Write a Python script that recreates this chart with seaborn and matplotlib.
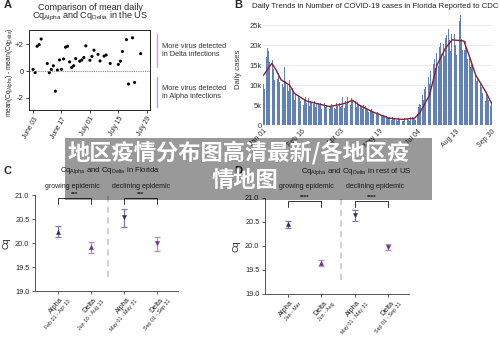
import matplotlib
matplotlib.use("Agg")
import matplotlib.pyplot as plt
import matplotlib.transforms as mtrans
import seaborn as sns
from matplotlib.patches import Rectangle
from matplotlib.ticker import FuncFormatter

# ---------------- data ----------------
# Panel A: daily difference of mean Cq (Alpha - Delta), day 0 = June 01
a_day = [2, 3, 4, 5, 6, 9, 10, 11, 12, 13, 14, 15, 16, 17, 18, 19, 20, 21, 22, 23,
         25, 26, 27, 28, 30, 31, 32, 34, 35, 37, 38, 40, 44, 45, 46, 48, 49, 51, 52, 55]
a_diff = [0.12, -0.12, 1.84, 1.96, 2.38, 0.56, -0.12, 0.12, 0.39, -1.5,
          0.07, 0.82, 0.12, 0.9, 1.77, 1.84, 0.68, 0.27, 0.39, 0.92,
          0.73, 0.82, 1.0, 1.87, 0.8, 1.09, 1.55, 1.24, 0.75, 1.11,
          1.19, 0.56, 0.49, 0.73, 1.45, 2.33, -0.97, 2.47, -0.85, 1.29]
a_tick_days = [2, 16, 30, 44, 58]
a_tick_labels = ["June 03", "June 17", "July 01", "July 15", "July 29"]

# Panel B: daily Florida cases (thousands), day 0 = Jan 01
daily_cases_k = [
    10.2, 8.9, 11.5, 13.8, 17.1, 19.3, 18.6,
    15.8, 14.2, 12.0, 17.5, 16.3, 14.1, 11.2,
    13.6, 12.4, 9.8, 11.5, 12.9, 10.7, 8.6,
    11.8, 12.6, 10.3, 9.4, 14.5, 11.0, 7.9,
    10.6, 9.9, 8.4, 11.2, 9.1, 7.0, 8.8,
    9.3, 8.1, 6.2, 7.5, 8.4, 7.1, 5.6,
    7.4, 6.8, 5.9, 7.2, 6.5, 6.9, 5.1,
    6.6, 7.0, 5.4, 6.3, 5.8, 6.7, 4.8,
    6.1, 5.5, 4.6, 6.0, 5.2, 5.9, 4.4,
    5.3, 5.7, 4.2, 5.6, 4.9, 5.4, 3.9,
    5.0, 4.7, 3.8, 5.5, 4.4, 5.1, 3.6,
    4.8, 5.2, 3.9, 4.6, 5.3, 4.5, 3.7,
    4.9, 4.3, 4.1, 5.6, 4.7, 5.0, 3.8,
    5.4, 4.6, 4.8, 6.9, 5.1, 5.5, 4.2,
    6.1, 5.3, 7.0, 8.9, 6.2, 5.7, 4.9,
    6.8, 5.9, 6.4, 7.1, 5.6, 6.0, 4.5,
    5.8, 5.2, 4.7, 5.9, 5.0, 4.6, 3.9,
    5.1, 4.4, 4.0, 4.8, 4.2, 3.8, 3.2,
    4.3, 3.6, 3.4, 3.9, 3.3, 3.0, 2.6,
    3.5, 2.9, 2.8, 3.2, 2.6, 2.4, 2.0,
    2.8, 2.3, 2.2, 2.6, 2.0, 1.9, 1.5,
    2.3, 1.9, 1.7, 2.1, 1.6, 1.5, 1.2,
    1.9, 1.6, 1.4, 1.8, 1.3, 1.2, 1.0,
    1.7, 1.4, 1.3, 1.6, 1.2, 1.1, 0.9,
    1.8, 1.5, 1.3, 1.7, 1.4, 1.2, 1.0,
    2.0, 1.7, 1.5, 1.9, 1.8, 1.6, 1.3,
    2.4, 2.1, 2.8, 4.6, 5.3, 5.0, 4.1,
    6.8, 7.5, 6.2, 8.9, 9.6, 8.3, 7.0,
    10.8, 11.9, 10.2, 13.4, 14.6, 12.8, 11.1,
    15.2, 16.4, 14.3, 18.1, 19.0, 16.9, 14.8,
    19.4, 20.6, 17.8, 22.9, 23.8, 20.3, 17.2,
    21.7, 22.5, 19.6, 25.6, 24.1, 21.2, 18.4,
    22.8, 23.5, 20.1, 24.3, 22.7, 19.9, 17.6,
    22.0, 23.1, 19.4, 26.0, 27.4, 21.5, 18.8,
    21.3, 22.4, 18.7, 20.9, 19.2, 16.5, 14.1,
    18.3, 17.1, 14.6, 16.0, 14.8, 12.2, 10.4,
    13.5, 12.6, 10.9, 11.8, 10.7, 9.0, 7.8,
    10.2, 9.5, 8.1, 9.0, 8.3, 6.9, 5.9,
    7.8, 7.1, 6.2, 6.6, 5.9, 4.8, 5.3,
]
b_days = list(range(len(daily_cases_k)))
avg_day = [0, 10, 15, 21, 31, 37, 51, 71, 79, 93, 100, 106, 114, 130, 150,
           166, 180, 186, 198, 207, 217, 225, 239, 245, 253, 265, 272]
avg_k = [12.4, 15.4, 13.8, 11.3, 10.0, 7.9, 6.0, 5.0, 4.6, 5.2, 5.6, 6.2, 5.0, 3.3, 1.7,
         1.4, 1.7, 2.9, 7.5, 15.0, 19.2, 21.3, 21.0, 17.5, 12.5, 8.3, 5.4]
b_tick_days = [0, 46, 92, 138, 184, 230, 272]
b_tick_labels = ["Jan 01", "Feb 16", "Apr 03", "May 19", "Jul 04", "Aug 19", "Sep 30"]

# Panels C and D: mean Cq with error range
groups = ["Alpha", "Delta", "Alpha", "Delta"]
c_periods = ["Feb 01 - Apr 13", "Jun 16 - Aug 13", "May 01 - May 31", "Sep 01 - Sep 31"]
c_mean = [20.22, 19.91, 20.54, 20.01]
c_low = [20.12, 19.80, 20.33, 19.84]
c_high = [20.35, 20.03, 20.71, 20.12]
c_stars = ["***", "***"]

d_periods = ["Jan - Mar", "Jun - Aug", "May 01 - May 31", "Sep 01 - Sep 31"]
d_mean = [20.45, 19.64, 20.64, 19.98]
d_low = [20.37, 19.58, 20.52, 19.92]
d_high = [20.53, 19.70, 20.75, 20.04]
d_stars = ["****", "****"]

banner_lines = ["地区疫情分布图高清最新/各地区疫", "情地图"]

# ---------------- style ----------------
sns.set_theme(style="ticks")
plt.rcParams['font.family'] = ['Liberation Sans', 'DejaVu Sans']
plt.rcParams['mathtext.fontset'] = 'custom'
plt.rcParams['mathtext.rm'] = 'Liberation Sans'
plt.rcParams['mathtext.it'] = 'Liberation Sans'
plt.rcParams['axes.linewidth'] = 0.7

W, H = 500, 337
fig = plt.figure(figsize=(W / 100, H / 100), dpi=100)
fig.patch.set_facecolor("white")


def box(left, top, right, bottom):
    return [left / W, 1 - bottom / H, (right - left) / W, (bottom - top) / H]


def ftext(x, y, s, **kw):
    return fig.text(x / W, 1 - y / H, s, **kw)


SUB_A = r"Cq$_{\mathrm{Alpha}}$"
SUB_D = r"Cq$_{\mathrm{Delta}}$"

# ---------------- panel A ----------------
axA = fig.add_axes(box(29, 30, 150, 110))
sns.scatterplot(x=a_day, y=a_diff, ax=axA, color="black", s=5, edgecolor="none")
axA.axhline(0, color="#888888", lw=0.8, ls=(0, (1, 1)))
axA.set_xlim(0, 59.6)
axA.set_ylim(-2.9, 3.05)
axA.set_yticks([-2, 0, 2])
axA.set_yticklabels(["-2", "0", "+2"], fontsize=5.5)
axA.set_xticks(a_tick_days)
axA.set_xticklabels(a_tick_labels, rotation=60, ha="right", rotation_mode="anchor", fontsize=4.8)
axA.tick_params(length=2.5, width=0.6, pad=1.5)
axA.set_ylabel(r"mean(Cq$_{\mathrm{Alpha}}$) - mean(Cq$_{\mathrm{Delta}}$)", fontsize=4.8)
axA.yaxis.set_label_coords(-0.115, 0.47)
trA = mtrans.blended_transform_factory(axA.transAxes, axA.transData)
axA.plot([1.058, 1.058], [2.76, 0.29], transform=trA, color="#c8a6d4", lw=1.0, clip_on=False)
axA.plot([1.058, 1.058], [-0.44, -2.69], transform=trA, color="#a6a8d4", lw=1.0, clip_on=False)
ftext(162, 50, "More virus detected\nin Delta infections", fontsize=5.3, va="center", ha="left", color="#333333")
ftext(162, 93, "More virus detected\nin Alpha infections", fontsize=5.3, va="center", ha="left", color="#333333")
ftext(90, 7, "Comparison of mean daily", fontsize=6.5, ha="center", va="center")
ftext(90, 16.5, SUB_A + " and " + SUB_D + " in the US", fontsize=6.5, ha="center", va="center")
ftext(4, 5, "A", fontsize=8, fontweight="bold", ha="left", va="center")

# ---------------- panel B ----------------
axB = fig.add_axes(box(263, 14, 492, 125))
axB.bar(b_days, daily_cases_k, width=0.72, color="#6282b7", edgecolor="none", zorder=2)
sns.lineplot(x=avg_day, y=avg_k, ax=axB, color="#8a1e2e", lw=1.0, zorder=3)
axB.set_xlim(-0.5, 272.5)
axB.set_ylim(0, 27.75)
axB.set_yticks([0, 5, 10, 15, 20, 25])
axB.yaxis.set_major_formatter(FuncFormatter(lambda v, p: "0" if v == 0 else f"{int(v)}k"))
axB.grid(axis="y", color="#e4e8ee", lw=0.6, zorder=0)
for s in axB.spines.values():
    s.set_visible(False)
axB.tick_params(axis="y", length=0, labelsize=5.5, labelcolor="#333333", pad=1)
axB.set_xticks(b_tick_days)
axB.set_xticklabels(b_tick_labels, rotation=45, ha="right", rotation_mode="anchor", fontsize=5)
axB.tick_params(axis="x", length=0, pad=2, labelcolor="#333333")
axB.set_ylabel("Daily cases", fontsize=5.5, color="#333333")
axB.yaxis.set_label_coords(-0.09, 0.5)
ftext(252, 6, "Daily Trends in Number of COVID-19 cases in Florida Reported to CDC",
      fontsize=5.6, ha="left", va="center", color="#222222")
ftext(234, 5, "B", fontsize=8, fontweight="bold", ha="left", va="center")


# ---------------- panels C and D ----------------
def cq_panel(rect, mean, low, high, periods, stars, vline_x, vline_top):
    ax = fig.add_axes(rect)
    xs = [0, 1, 2, 3]
    err_cols = ["#7b79a9", "#b58dc1", "#7b79a9", "#b58dc1"]
    mk_cols = ["#2d2a6b", "#6d2c7e", "#2d2a6b", "#6d2c7e"]
    markers = ["^", "^", "v", "v"]
    for x, m, lo, hi, ec, mc, mk in zip(xs, mean, low, high, err_cols, mk_cols, markers):
        ax.errorbar([x], [m], yerr=[[m - lo], [hi - m]], fmt="none", ecolor=ec,
                    elinewidth=0.9, capsize=2.3, capthick=0.9)
        sns.scatterplot(x=[x], y=[m], ax=ax, marker=mk, color=mc, s=9, edgecolor=mc, linewidth=0.3, zorder=3)
    ax.set_xlim(-0.68, 3.62)
    ax.set_ylim(19.0, 21.0)
    ax.set_yticks([19.0, 19.5, 20.0, 20.5, 21.0])
    ax.set_yticklabels(["19.0", "19.5", "20.0", "20.5", "21.0"], fontsize=5.3)
    ax.set_xticks(xs)
    ax.set_xticklabels(["", "", "", ""])
    ax.tick_params(length=2.5, width=0.6, pad=1.5, color="#444444")
    sns.despine(ax=ax)
    for s in ("left", "bottom"):
        ax.spines[s].set_color("#555555")
    ax.set_ylabel("Cq", fontsize=6.5)
    ax.yaxis.set_label_coords(-0.17, 0.5)
    ax.plot([vline_x, vline_x], [19.29, vline_top], ls=(0, (4, 3)), color="#c4c4c4", lw=1.1, clip_on=False)
    for (x0, x1), st in zip([(0, 1), (2, 3)], stars):
        ax.plot([x0, x0, x1, x1], [20.81, 20.94, 20.94, 20.81], color="#333333", lw=0.7, clip_on=False)
        ax.text((x0 + x1) / 2, 20.955, st, ha="center", va="bottom", fontsize=4.5, fontweight="bold")
    for x, g, p in zip(xs, groups, periods):
        ax.annotate(g, xy=(x, 19.0), xycoords="data", xytext=(1.5, -4), textcoords="offset points",
                    rotation=50, ha="right", va="top", rotation_mode="anchor", fontsize=5.3)
        ax.annotate(p, xy=(x, 19.0), xycoords="data", xytext=(7.5, -5.5), textcoords="offset points",
                    rotation=50, ha="right", va="top", rotation_mode="anchor", fontsize=3.8)
    return ax


axC = cq_panel(box(35, 195, 178, 291), c_mean, c_low, c_high, c_periods, c_stars, 1.53, 21.0)
ftext(110, 171, SUB_A + " and " + SUB_D + " in Florida", fontsize=5.6, ha="center", va="center")
ftext(72, 186, "growing epidemic", fontsize=5, ha="center", va="center")
ftext(141, 187, "declining epidemic", fontsize=5, ha="center", va="center")
ftext(3, 171, "C", fontsize=8, fontweight="bold", ha="left", va="center")

axD = cq_panel(box(265, 198, 409, 294), d_mean, d_low, d_high, d_periods, d_stars, 1.6, 21.05)
ftext(356, 172, SUB_A + " and " + SUB_D + " in rest of US", fontsize=5.6, ha="center", va="center")
ftext(306, 186, "growing epidemic", fontsize=5, ha="center", va="center")
ftext(375, 187, "declining epidemic", fontsize=5, ha="center", va="center")
ftext(234, 171, "D", fontsize=8, fontweight="bold", ha="left", va="center")

# ---------------- banner ----------------
fig.add_artist(Rectangle((65 / W, 1 - 200 / H), 367 / W, 62 / H, transform=fig.transFigure,
                         facecolor="black", alpha=0.4, edgecolor="none", zorder=20))
ftext(239, 153, banner_lines[0], fontsize=16, fontweight="bold", color="white",
      ha="center", va="center", family=["Noto Sans CJK SC", "DejaVu Sans"], zorder=21)
ftext(245, 180, banner_lines[1], fontsize=16, fontweight="bold", color="white",
      ha="center", va="center", family=["Noto Sans CJK SC", "DejaVu Sans"], zorder=21)

fig.savefig("out.png", dpi=100)
